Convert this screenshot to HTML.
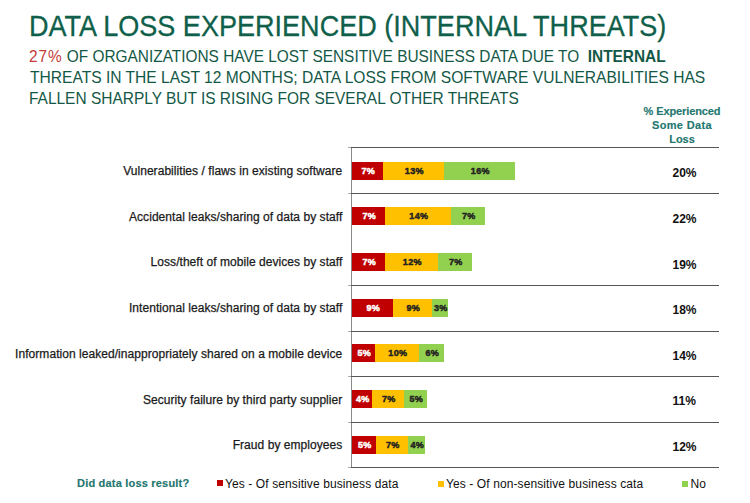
<!DOCTYPE html>
<html><head><meta charset="utf-8">
<style>
html,body{margin:0;padding:0;background:#fff;}
body{width:750px;height:503px;position:relative;overflow:hidden;font-family:"Liberation Sans",sans-serif;}
.t{position:absolute;white-space:nowrap;line-height:1;transform-origin:0 0;}
#title{left:29.2px;top:11.2px;font-size:30px;color:#105f4a;transform:scaleX(0.9017);-webkit-text-stroke:0.3px currentColor;}
.sub{font-size:17px;color:#135846;left:29px;transform:scaleX(0.91);}
.red{color:#c43a3a;letter-spacing:1px;}
.hdr{font-size:11px;font-weight:bold;color:#237670;text-align:center;-webkit-text-stroke:0.15px currentColor;}
.lab{font-size:12px;color:#1a1a1a;text-align:right;letter-spacing:0.05px;-webkit-text-stroke:0.25px currentColor;}
.pct{font-size:12px;font-weight:bold;color:#111;}
.hl{position:absolute;left:351px;width:368px;height:1px;background:#555;}
.ax{position:absolute;left:351px;top:147px;width:1px;height:320px;background:#8a8a8a;}
.tk{position:absolute;left:348px;width:3px;height:1px;background:#aaa;}
.seg{position:absolute;height:18px;font-size:9px;font-weight:bold;text-align:center;line-height:19.6px;box-sizing:border-box;padding-left:1.6px;letter-spacing:0.3px;-webkit-text-stroke:0.45px currentColor;}
.r{background:#c00000;color:#fff;}
.y{background:#ffc000;color:#222;}
.g{background:#92d050;color:#222;}
.sq{position:absolute;width:6px;height:6px;-webkit-text-stroke:0;}
.leg{font-size:12px;color:#111;letter-spacing:0.1px;}
</style></head><body>
<div class="t" id="title">DATA LOSS EXPERIENCED (INTERNAL THREATS)</div>
<div class="t sub" style="top:47.6px;transform:scaleX(0.906)"><span class="red">27%</span> OF ORGANIZATIONS HAVE LOST SENSITIVE BUSINESS DATA DUE TO&nbsp; <b>INTERNAL</b></div>
<div class="t sub" style="top:68.9px;left:30px;transform:scaleX(0.9168)">THREATS IN THE LAST 12 MONTHS; DATA LOSS FROM SOFTWARE VULNERABILITIES HAS</div>
<div class="t sub" style="top:90.3px">FALLEN SHARPLY BUT IS RISING FOR SEVERAL OTHER THREATS</div>

<div class="t hdr" style="left:640px;top:106px;width:84px;letter-spacing:-0.1px">% Experienced</div>
<div class="t hdr" style="left:640px;top:119.5px;width:84px;letter-spacing:0.35px">Some Data</div>
<div class="t hdr" style="left:640px;top:133.5px;width:84px">Loss</div>

<div class="ax"></div>
<div class="tk" style="top:147px"></div><div class="tk" style="top:193px"></div><div class="tk" style="top:285px"></div><div class="tk" style="top:331px"></div><div class="tk" style="top:376px"></div><div class="tk" style="top:422px"></div><div class="tk" style="top:467px"></div>
<div class="hl" style="top:147px"></div>
<div class="hl" style="top:193px"></div>
<div class="hl" style="top:285px"></div>
<div class="hl" style="top:331px"></div>
<div class="hl" style="top:376px"></div>
<div class="hl" style="top:422px"></div>
<div class="hl" style="top:467px"></div>

<div class="t lab" style="right:407.7px;top:164.9px">Vulnerabilities / flaws in existing software</div>
<div class="t lab" style="right:407.7px;top:210.7px">Accidental leaks/sharing of data by staff</div>
<div class="t lab" style="right:407.7px;top:256.4px">Loss/theft of mobile devices by staff</div>
<div class="t lab" style="right:407.7px;top:302.2px">Intentional leaks/sharing of data by staff</div>
<div class="t lab" style="right:407.7px;top:347.9px">Information leaked/inappropriately shared on a mobile device</div>
<div class="t lab" style="right:407.7px;top:393.7px">Security failure by third party supplier</div>
<div class="t lab" style="right:407.7px;top:439.4px">Fraud by employees</div>
<div class="seg r" style="left:352px;width:31px;top:162px">7%</div><div class="seg y" style="left:383px;width:61px;top:162px">13%</div><div class="seg g" style="left:444px;width:71px;top:162px">16%</div>
<div class="seg r" style="left:352px;width:33px;top:207px">7%</div><div class="seg y" style="left:385px;width:66px;top:207px">14%</div><div class="seg g" style="left:451px;width:34px;top:207px">7%</div>
<div class="seg r" style="left:352px;width:33px;top:253px">7%</div><div class="seg y" style="left:385px;width:53px;top:253px">12%</div><div class="seg g" style="left:438px;width:34px;top:253px">7%</div>
<div class="seg r" style="left:352px;width:41px;top:299px">9%</div><div class="seg y" style="left:393px;width:39px;top:299px">9%</div><div class="seg g" style="left:432px;width:16px;top:299px">3%</div>
<div class="seg r" style="left:352px;width:23px;top:344px">5%</div><div class="seg y" style="left:375px;width:44px;top:344px">10%</div><div class="seg g" style="left:419px;width:25px;top:344px">6%</div>
<div class="seg r" style="left:352px;width:20px;top:390px">4%</div><div class="seg y" style="left:372px;width:32px;top:390px">7%</div><div class="seg g" style="left:404px;width:23px;top:390px">5%</div>
<div class="seg r" style="left:352px;width:24px;top:436px">5%</div><div class="seg y" style="left:376px;width:32px;top:436px">7%</div><div class="seg g" style="left:408px;width:17px;top:436px">4%</div>
<div class="t pct" style="left:672.5px;top:167.2px">20%</div>
<div class="t pct" style="left:672.5px;top:212.8px">22%</div>
<div class="t pct" style="left:672.5px;top:258.5px">19%</div>
<div class="t pct" style="left:672.5px;top:304.1px">18%</div>
<div class="t pct" style="left:672.5px;top:349.8px">14%</div>
<div class="t pct" style="left:672.5px;top:395.4px">11%</div>
<div class="t pct" style="left:672.5px;top:441.1px">12%</div>

<div class="t hdr" style="left:77px;top:478px;text-align:left;letter-spacing:0.2px">Did data loss result?</div>
<div class="sq r" style="left:217px;top:480px"></div>
<div class="t leg" style="left:225px;top:478px">Yes - Of sensitive business data</div>
<div class="sq y" style="left:438px;top:480.5px"></div>
<div class="t leg" style="left:446px;top:478px">Yes - Of non-sensitive business cata</div>
<div class="sq g" style="left:682px;top:480.5px"></div>
<div class="t leg" style="left:690.5px;top:478px">No</div>
</body></html>
